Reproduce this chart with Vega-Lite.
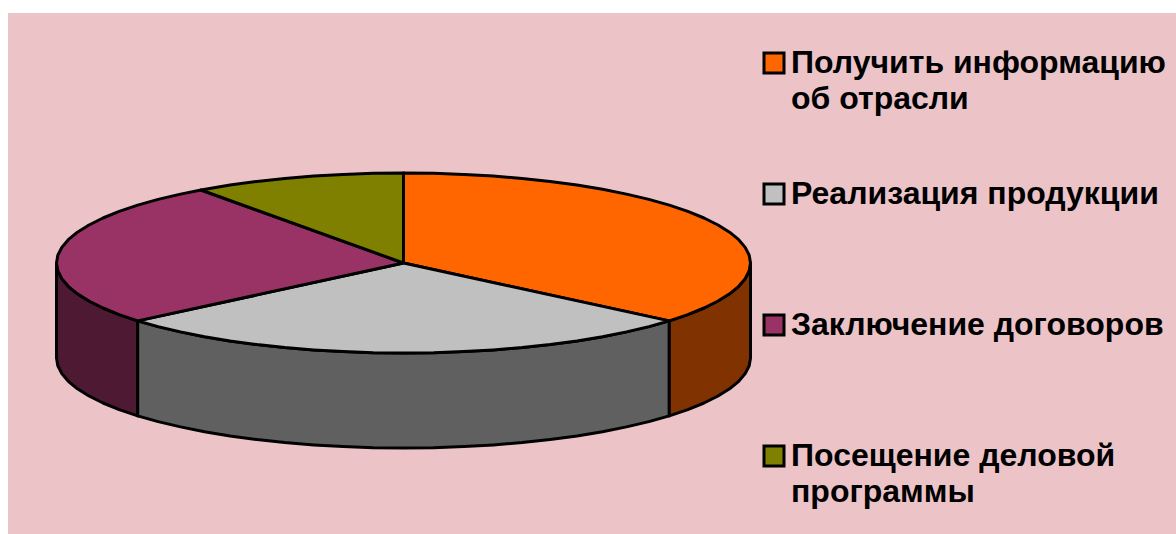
{
"$schema":"https://vega.github.io/schema/vega-lite/v6.json",
"width":1176,"height":534,"autosize":"none","padding":0,"background":"white",
"view":{"stroke":null},
"config":{"style":{"guide-label":{"lineHeight":36}}},
"datasets":{
"bg":[{"x":8,"x2":1176,"y":13,"y2":534}],
"sides":[
{"s":"Заключение договоров","x":56.5,"y":263,"b":358},{"s":"Заключение договоров","x":57.8,"y":270.8,"b":365.8},{"s":"Заключение договоров","x":61.8,"y":278.6,"b":373.6},{"s":"Заключение договоров","x":68.3,"y":286.3,"b":381.3},{"s":"Заключение договоров","x":77.4,"y":293.8,"b":388.8},{"s":"Заключение договоров","x":89,"y":301,"b":396},{"s":"Заключение договоров","x":103,"y":308,"b":403},{"s":"Заключение договоров","x":119.2,"y":314.6,"b":409.6},{"s":"Заключение договоров","x":137.7,"y":320.9,"b":415.9},
{"s":"Реализация продукции","x":137.7,"y":320.9,"b":415.9},{"s":"Реализация продукции","x":158.1,"y":326.6,"b":421.6},{"s":"Реализация продукции","x":180.5,"y":331.9,"b":426.9},{"s":"Реализация продукции","x":204.5,"y":336.7,"b":431.7},{"s":"Реализация продукции","x":230,"y":340.9,"b":435.9},{"s":"Реализация продукции","x":256.9,"y":344.6,"b":439.6},{"s":"Реализация продукции","x":284.8,"y":347.6,"b":442.6},{"s":"Реализация продукции","x":313.7,"y":349.9,"b":444.9},{"s":"Реализация продукции","x":343.2,"y":351.6,"b":446.6},{"s":"Реализация продукции","x":373.3,"y":352.7,"b":447.7},{"s":"Реализация продукции","x":403.5,"y":353,"b":448},{"s":"Реализация продукции","x":433.7,"y":352.7,"b":447.7},{"s":"Реализация продукции","x":463.8,"y":351.6,"b":446.6},{"s":"Реализация продукции","x":493.3,"y":349.9,"b":444.9},{"s":"Реализация продукции","x":522.2,"y":347.6,"b":442.6},{"s":"Реализация продукции","x":550.1,"y":344.6,"b":439.6},{"s":"Реализация продукции","x":577,"y":340.9,"b":435.9},{"s":"Реализация продукции","x":602.5,"y":336.7,"b":431.7},{"s":"Реализация продукции","x":626.5,"y":331.9,"b":426.9},{"s":"Реализация продукции","x":648.9,"y":326.6,"b":421.6},{"s":"Реализация продукции","x":669.3,"y":320.9,"b":415.9},
{"s":"Получить информацию\nоб отрасли","x":669.3,"y":320.9,"b":415.9},{"s":"Получить информацию\nоб отрасли","x":687.8,"y":314.6,"b":409.6},{"s":"Получить информацию\nоб отрасли","x":704,"y":308,"b":403},{"s":"Получить информацию\nоб отрасли","x":718,"y":301,"b":396},{"s":"Получить информацию\nоб отрасли","x":729.6,"y":293.8,"b":388.8},{"s":"Получить информацию\nоб отрасли","x":738.7,"y":286.3,"b":381.3},{"s":"Получить информацию\nоб отрасли","x":745.2,"y":278.6,"b":373.6},{"s":"Получить информацию\nоб отрасли","x":749.2,"y":270.8,"b":365.8},{"s":"Получить информацию\nоб отрасли","x":750.5,"y":263,"b":358}
],
"top":[
{"s":"Получить информацию\nоб отрасли","o":0,"x":403.5,"y":263},{"s":"Получить информацию\nоб отрасли","o":1,"x":403.5,"y":173},{"s":"Получить информацию\nоб отрасли","o":2,"x":433.7,"y":173.3},{"s":"Получить информацию\nоб отрасли","o":3,"x":463.8,"y":174.4},{"s":"Получить информацию\nоб отрасли","o":4,"x":493.3,"y":176.1},{"s":"Получить информацию\nоб отрасли","o":5,"x":522.2,"y":178.4},{"s":"Получить информацию\nоб отрасли","o":6,"x":550.1,"y":181.4},{"s":"Получить информацию\nоб отрасли","o":7,"x":577,"y":185.1},{"s":"Получить информацию\nоб отрасли","o":8,"x":602.5,"y":189.3},{"s":"Получить информацию\nоб отрасли","o":9,"x":626.5,"y":194.1},{"s":"Получить информацию\nоб отрасли","o":10,"x":648.9,"y":199.4},{"s":"Получить информацию\nоб отрасли","o":11,"x":669.3,"y":205.1},{"s":"Получить информацию\nоб отрасли","o":12,"x":687.8,"y":211.4},{"s":"Получить информацию\nоб отрасли","o":13,"x":704,"y":218},{"s":"Получить информацию\nоб отрасли","o":14,"x":718,"y":225},{"s":"Получить информацию\nоб отрасли","o":15,"x":729.6,"y":232.2},{"s":"Получить информацию\nоб отрасли","o":16,"x":738.7,"y":239.7},{"s":"Получить информацию\nоб отрасли","o":17,"x":745.2,"y":247.4},{"s":"Получить информацию\nоб отрасли","o":18,"x":749.2,"y":255.2},{"s":"Получить информацию\nоб отрасли","o":19,"x":750.5,"y":263},{"s":"Получить информацию\nоб отрасли","o":20,"x":749.2,"y":270.8},{"s":"Получить информацию\nоб отрасли","o":21,"x":745.2,"y":278.6},{"s":"Получить информацию\nоб отрасли","o":22,"x":738.7,"y":286.3},{"s":"Получить информацию\nоб отрасли","o":23,"x":729.6,"y":293.8},{"s":"Получить информацию\nоб отрасли","o":24,"x":718,"y":301},{"s":"Получить информацию\nоб отрасли","o":25,"x":704,"y":308},{"s":"Получить информацию\nоб отрасли","o":26,"x":687.8,"y":314.6},{"s":"Получить информацию\nоб отрасли","o":27,"x":669.3,"y":320.9},{"s":"Получить информацию\nоб отрасли","o":28,"x":403.5,"y":263},
{"s":"Реализация продукции","o":0,"x":403.5,"y":263},{"s":"Реализация продукции","o":1,"x":669.3,"y":320.9},{"s":"Реализация продукции","o":2,"x":648.9,"y":326.6},{"s":"Реализация продукции","o":3,"x":626.5,"y":331.9},{"s":"Реализация продукции","o":4,"x":602.5,"y":336.7},{"s":"Реализация продукции","o":5,"x":577,"y":340.9},{"s":"Реализация продукции","o":6,"x":550.1,"y":344.6},{"s":"Реализация продукции","o":7,"x":522.2,"y":347.6},{"s":"Реализация продукции","o":8,"x":493.3,"y":349.9},{"s":"Реализация продукции","o":9,"x":463.8,"y":351.6},{"s":"Реализация продукции","o":10,"x":433.7,"y":352.7},{"s":"Реализация продукции","o":11,"x":403.5,"y":353},{"s":"Реализация продукции","o":12,"x":373.3,"y":352.7},{"s":"Реализация продукции","o":13,"x":343.2,"y":351.6},{"s":"Реализация продукции","o":14,"x":313.7,"y":349.9},{"s":"Реализация продукции","o":15,"x":284.8,"y":347.6},{"s":"Реализация продукции","o":16,"x":256.9,"y":344.6},{"s":"Реализация продукции","o":17,"x":230,"y":340.9},{"s":"Реализация продукции","o":18,"x":204.5,"y":336.7},{"s":"Реализация продукции","o":19,"x":180.5,"y":331.9},{"s":"Реализация продукции","o":20,"x":158.1,"y":326.6},{"s":"Реализация продукции","o":21,"x":137.7,"y":320.9},{"s":"Реализация продукции","o":22,"x":403.5,"y":263},
{"s":"Заключение договоров","o":0,"x":403.5,"y":263},{"s":"Заключение договоров","o":1,"x":137.7,"y":320.9},{"s":"Заключение договоров","o":2,"x":119.2,"y":314.6},{"s":"Заключение договоров","o":3,"x":103,"y":308},{"s":"Заключение договоров","o":4,"x":89,"y":301},{"s":"Заключение договоров","o":5,"x":77.4,"y":293.8},{"s":"Заключение договоров","o":6,"x":68.3,"y":286.3},{"s":"Заключение договоров","o":7,"x":61.8,"y":278.6},{"s":"Заключение договоров","o":8,"x":57.8,"y":270.8},{"s":"Заключение договоров","o":9,"x":56.5,"y":263},{"s":"Заключение договоров","o":10,"x":57.8,"y":255.2},{"s":"Заключение договоров","o":11,"x":61.8,"y":247.4},{"s":"Заключение договоров","o":12,"x":68.3,"y":239.7},{"s":"Заключение договоров","o":13,"x":77.4,"y":232.2},{"s":"Заключение договоров","o":14,"x":89,"y":225},{"s":"Заключение договоров","o":15,"x":103,"y":218},{"s":"Заключение договоров","o":16,"x":119.2,"y":211.4},{"s":"Заключение договоров","o":17,"x":137.7,"y":205.1},{"s":"Заключение договоров","o":18,"x":158.1,"y":199.4},{"s":"Заключение договоров","o":19,"x":180.5,"y":194.1},{"s":"Заключение договоров","o":20,"x":201,"y":190},{"s":"Заключение договоров","o":21,"x":403.5,"y":263},
{"s":"Посещение деловой\nпрограммы","o":0,"x":403.5,"y":263},{"s":"Посещение деловой\nпрограммы","o":1,"x":201,"y":190},{"s":"Посещение деловой\nпрограммы","o":2,"x":230,"y":185.1},{"s":"Посещение деловой\nпрограммы","o":3,"x":256.9,"y":181.4},{"s":"Посещение деловой\nпрограммы","o":4,"x":284.8,"y":178.4},{"s":"Посещение деловой\nпрограммы","o":5,"x":313.7,"y":176.1},{"s":"Посещение деловой\nпрограммы","o":6,"x":343.2,"y":174.4},{"s":"Посещение деловой\nпрограммы","o":7,"x":373.3,"y":173.3},{"s":"Посещение деловой\nпрограммы","o":8,"x":403.5,"y":173},{"s":"Посещение деловой\nпрограммы","o":9,"x":403.5,"y":263}
]
},
"layer":[
{"data":{"name":"bg"},"mark":{"type":"rect","fill":"#ecc4c8"},
 "encoding":{"x":{"field":"x","type":"quantitative","scale":{"domain":[0,1176],"nice":false,"zero":false},"axis":null},"x2":{"field":"x2"},"y":{"field":"y","type":"quantitative","scale":{"domain":[534,0],"nice":false,"zero":false},"axis":null},"y2":{"field":"y2"}}},
{"data":{"name":"sides"},"mark":{"type":"area","stroke":"black","strokeWidth":3,"strokeJoin":"round"},
 "encoding":{"x":{"field":"x","type":"quantitative"},"y":{"field":"y","type":"quantitative"},"y2":{"field":"b"},
 "detail":{"field":"s"},
 "fill":{"field":"s","type":"nominal","legend":null,"scale":{"domain":["Получить информацию\nоб отрасли","Реализация продукции","Заключение договоров"],"range":["#803300","#606060","#4d1933"]}}}},
{"data":{"name":"top"},
 "mark":{"type":"line","stroke":"black","strokeWidth":3,"strokeJoin":"round"},
 "encoding":{"x":{"field":"x","type":"quantitative"},"y":{"field":"y","type":"quantitative"},"order":{"field":"o","type":"quantitative"},"detail":{"field":"s"},
 "fill":{"field":"s","type":"nominal","sort":null,
  "scale":{"domain":["Получить информацию\nоб отрасли","Реализация продукции","Заключение договоров","Посещение деловой\nпрограммы"],"range":["#ff6600","#c0c0c0","#993366","#808000"]},
  "legend":{"title":null,"orient":"none","legendX":758,"legendY":47,"symbolType":"square","symbolSize":400,"symbolStrokeColor":"black","symbolStrokeWidth":3,"symbolOpacity":1,
   "labelFont":"Liberation Sans","labelFontWeight":"bold","labelFontSize":32,"labelColor":"black","labelLimit":500,"labelOffset":1,"gridAlign":"all","rowPadding":63,
   "labelExpr":"split(datum.label,'\\n')"}}}}
],
"resolve":{"scale":{"fill":"independent"}}
}
